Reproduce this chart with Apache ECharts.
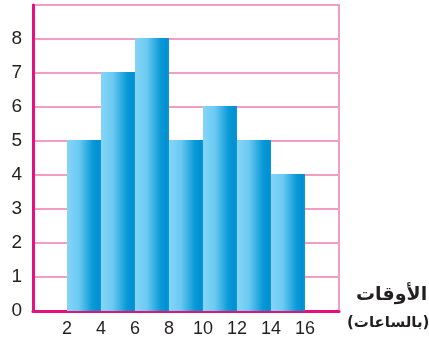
<!DOCTYPE html>
<html><head><meta charset="utf-8">
<script src="https://cdn.jsdelivr.net/npm/echarts@6/dist/echarts.min.js"></script>
<style>html,body{margin:0;padding:0;background:#fff}#c{width:429px;height:344px}</style>
</head><body><div id="c"></div>
<script>
const binStarts = [2, 4, 6, 8, 10, 12, 14];
const binEnds = [4, 6, 8, 10, 12, 14, 16];
const counts = [5, 7, 8, 5, 6, 5, 4];
const xTickLabels = [2, 4, 6, 8, 10, 12, 14, 16];
const yTickLabels = [0, 1, 2, 3, 4, 5, 6, 7, 8];
const xTitle = 'الأوقات';
const xSubtitle = '(بالساعات)';

const data = binStarts.map((s, i) => [s, binEnds[i], counts[i]]);
const chart = echarts.init(document.getElementById('c'), null, {renderer: 'canvas'});
chart.setOption({
  animation: false,
  grid: {left: 33, top: 5, right: 90, bottom: 33, show: true, borderColor: '#f19ec2', borderWidth: 2, backgroundColor: 'transparent'},
  xAxis: {
    type: 'value', min: 0, max: 18, interval: 2,
    axisLine: {show: true, onZero: false, lineStyle: {color: '#e6117f', width: 3}},
    axisTick: {show: false},
    splitLine: {show: false},
    axisLabel: {
      margin: 9, fontSize: 18, color: '#231f20', fontFamily: 'Liberation Sans',
      formatter: v => xTickLabels.includes(v) ? String(v) : ''
    }
  },
  yAxis: {
    type: 'value', min: 0, max: 9, interval: 1,
    axisLine: {show: true, lineStyle: {color: '#e6117f', width: 3}},
    axisTick: {show: false},
    splitLine: {show: true, lineStyle: {color: '#f19ec2', width: 2}},
    axisLabel: {
      margin: 11, fontSize: 19, color: '#231f20', fontFamily: 'Liberation Sans',
      formatter: v => yTickLabels.includes(v) ? String(v) : ''
    }
  },
  series: [{
    type: 'custom',
    data: data,
    encode: {x: [0, 1], y: 2},
    renderItem: function (params, api) {
      const p1 = api.coord([api.value(0), api.value(2)]);
      const p2 = api.coord([api.value(1), 0]);
      return {
        type: 'rect',
        shape: {x: p1[0], y: p1[1] - 1, width: p2[0] - p1[0], height: p2[1] - p1[1] + 1},
        style: {
          fill: new echarts.graphic.LinearGradient(0, 0, 1, 0, [
            {offset: 0, color: '#85d5f7'},
            {offset: 0.35, color: '#6ccaf2'},
            {offset: 0.75, color: '#0b9ad8'},
            {offset: 0.92, color: '#0090d2'},
            {offset: 1, color: '#0a98d8'}
          ])
        }
      };
    },
    z: 3
  }],
  graphic: [
    {type: 'text', left: 356, top: 286, style: {text: xTitle, fontSize: 19, fontWeight: 'bold', fill: '#231f20', fontFamily: 'DejaVu Sans'}},
    {type: 'text', left: 347, top: 316, style: {text: xSubtitle, fontSize: 15, fontWeight: 'bold', fill: '#231f20', fontFamily: 'DejaVu Sans'}}
  ]
});
</script></body></html>
